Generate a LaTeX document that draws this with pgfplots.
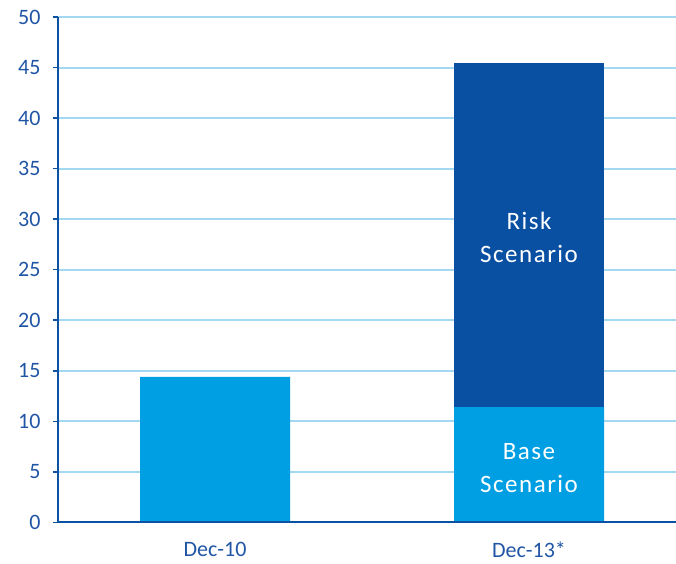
\documentclass[border=0pt]{standalone}
\usepackage{fontspec}
\setmainfont{Carlito}
\newfontfamily\barfont[LetterSpace=6]{Carlito}
\usepackage{pgfplots}
\pgfplotsset{compat=1.18}
\usetikzlibrary{calc}

\definecolor{axisblue}{HTML}{0B52A5}
\definecolor{labelblue}{HTML}{2055A5}
\definecolor{gridblue}{HTML}{A3D8F3}
\definecolor{baseblue}{HTML}{009FE3}
\definecolor{riskblue}{HTML}{0A50A2}

\begin{document}
\begin{tikzpicture}
\begin{axis}[
  scale only axis,
  width=618pt, height=505.4pt,
  xmin=-0.5, xmax=1.468,
  ymin=0, ymax=50,
  ytick={0,5,...,50},
  xtick={0,1},
  xticklabels={Dec-10, Dec-13*},
  extra x ticks={0.5},
  extra x tick labels={},
  extra x tick style={grid=none, major tick length=6pt, tick align=outside, tick style={axisblue, line width=1.6pt}},
  x axis line style={draw=none},
  axis x line*=bottom,
  axis y line*=left,
  y axis line style={axisblue, line width=2pt, -},
  ytick style={axisblue, line width=1.6pt},
  major tick length=5pt,
  tick align=outside,
  xtick style={draw=none},
  ymajorgrids,
  grid style={gridblue, line width=2pt},
  tick label style={font=\fontsize{22}{26}\selectfont, text=labelblue},
  /pgf/number format/assume math mode=true,
  yticklabel style={xshift=-9pt},
  xticklabel style={yshift=-11pt},
  ybar stacked,
  bar width=150pt,
  clip=false,
]
\addplot[fill=baseblue, draw=none] coordinates {(0,14.4) (1,11.4)};
\addplot[fill=riskblue, draw=none] coordinates {(0,0) (1,34.0)};
\coordinate (risk) at (axis cs:1,28.2);
\coordinate (base) at (axis cs:1,5.4);
\coordinate (sw) at (rel axis cs:0,0);
\coordinate (se) at (rel axis cs:1,0);
\coordinate (ne) at (rel axis cs:1,1);
\end{axis}
% bottom axis line over the bar bases
\draw[axisblue, line width=2pt] (sw) -- (se);
% scenario names inside the stacked bar
\node[text=white, align=center, font=\barfont\fontsize{25}{33}\selectfont] at (risk) {Risk\\Scenario};
\node[text=white, align=center, font=\barfont\fontsize{25}{33}\selectfont] at (base) {Base\\Scenario};
\pgfresetboundingbox
\path[use as bounding box] ($(sw)+(-58pt,-41pt)$) rectangle ($(ne)+(0pt,17pt)$);
\end{tikzpicture}
\end{document}
